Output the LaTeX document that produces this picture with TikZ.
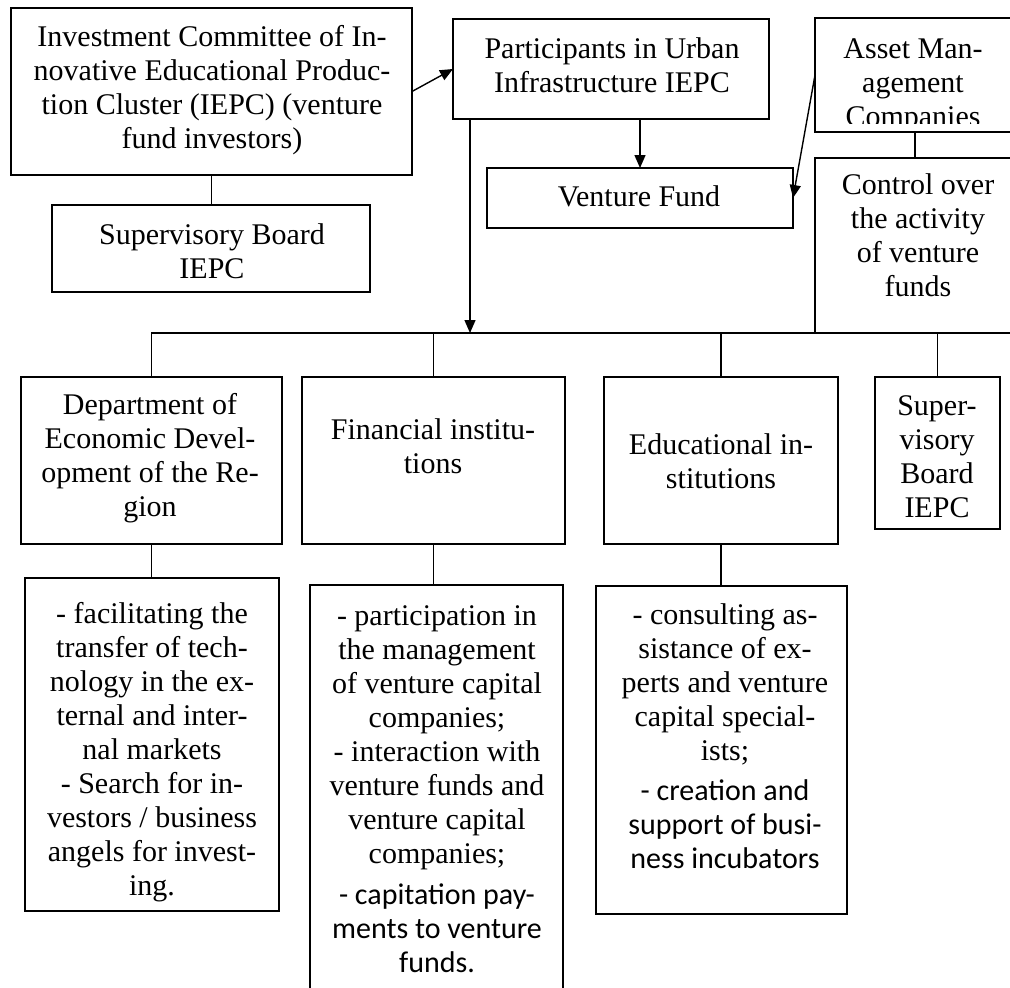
\documentclass[tikz,border=0pt]{standalone}
\usepackage{fontspec}
\setmainfont{Liberation Serif}
\newfontfamily\calib{Carlito}
\usetikzlibrary{arrows.meta}
\tikzset{
  box/.style={draw, line width=1.3pt, inner sep=0pt, outer sep=0pt},
  txt/.style={align=center, inner sep=0pt, font=\fontsize{30}{34}\selectfont},
  conn/.style={line width=1.4pt},
  arr/.style={line width=1.4pt, -{Triangle[length=13pt,width=11pt]}}
}
\begin{document}
\begin{tikzpicture}[x=1pt,y=-1pt]
\useasboundingbox (0,0) rectangle (1010,988);
% boxes
\node[box, minimum width=401pt, minimum height=167pt] (ic) at (211.5,91.5) {};
\node[box, minimum width=318pt, minimum height=87pt] (sbt) at (211,248.5) {};
\node[box, minimum width=316pt, minimum height=100pt] (part) at (611,69) {};
\node[box, minimum width=306pt, minimum height=60pt] (vf) at (640,198) {};
\node[box, minimum width=200pt, minimum height=114pt] (am) at (915,75) {};
\node[box, minimum width=200pt, minimum height=175pt] (ctrl) at (915,245.5) {};
\node[box, minimum width=261pt, minimum height=167pt] (dept) at (151.5,460.5) {};
\node[box, minimum width=263pt, minimum height=167pt] (fin) at (433.5,460.5) {};
\node[box, minimum width=234pt, minimum height=167pt] (edu) at (721,460.5) {};
\node[box, minimum width=125pt, minimum height=152pt] (supr) at (937.5,453) {};
\node[box, minimum width=254pt, minimum height=333pt] (deptl) at (152,744.5) {};
\node[box, minimum width=253pt, minimum height=415pt] (finl) at (436.5,792.5) {};
\node[box, minimum width=251pt, minimum height=328pt] (edul) at (721.5,750) {};
% texts
\node[txt] (ic-t) at (212,90) {Investment Committee of In-\\novative Educational Produc-\\tion Cluster (IEPC) (venture\\fund investors)};
\node[txt] (sbt-t) at (212,251) {Supervisory Board\\IEPC};
\node[txt] (part-t) at (612,65) {Participants in Urban\\Infrastructure IEPC};
\node[txt] (vf-t) at (639,196) {Venture Fund};
\begin{scope}
\clip (815,18) rectangle (1015,123);
\node[txt] (am-t) at (913,86) {Asset Man-\\agement\\Companies};
\end{scope}
\node[txt] (ctrl-t) at (918,235) {Control over\\the activity\\of venture\\funds};
\node[txt] (dept-t) at (150,458) {Department of\\Economic Devel-\\opment of the Re-\\gion};
\node[txt] (fin-t) at (433,446) {Financial institu-\\tions};
\node[txt] (edu-t) at (721,461) {Educational in-\\stitutions};
\node[txt] (supr-t) at (937,457) {Super-\\visory\\Board\\IEPC};
\node[txt] (deptl-t) at (152,752) {- facilitating the\\transfer of tech-\\nology in the ex-\\ternal and inter-\\nal markets\\- Search for in-\\vestors / business\\angels for invest-\\ing.};
\node[txt] (finl-t) at (437,789) {- participation in\\the management\\of venture capital\\companies;\\- interaction with\\venture funds and\\venture capital\\companies;\\[7pt]\calib - capitation pay-\\\calib ments to venture\\\calib funds.};
\node[txt] (edul-t) at (725,736) {- consulting as-\\sistance of ex-\\perts and venture\\capital special-\\ists;\\[6pt]\calib - creation and\\\calib support of busi-\\\calib ness incubators};
% coordinates
\coordinate (busL) at (151.5,333);
\coordinate (busR) at (1015,333);
\coordinate (busA) at (470,333);
% connectors
\draw[conn] (ic.south) -- (ic.south |- sbt.north);
\draw[arr] (ic.east) -- (part.west);
\draw[arr] (part.south -| vf.north) -- (vf.north);
\draw[arr] (am.west) -- (vf.east);
\draw[conn] (am.south) -- (ctrl.north);
\draw[arr] (part.south -| busA) -- (busA);
\draw[conn] (busR) -- (busL) -- (dept.north);
\draw[conn] (fin.north |- busL) -- (fin.north);
\draw[conn] (edu.north |- busL) -- (edu.north);
\draw[conn] (supr.north |- busL) -- (supr.north);
\draw[conn] (dept.south) -- (dept.south |- deptl.north);
\draw[conn] (fin.south) -- (fin.south |- finl.north);
\draw[conn] (edu.south) -- (edu.south |- edul.north);
\end{tikzpicture}
\end{document}
